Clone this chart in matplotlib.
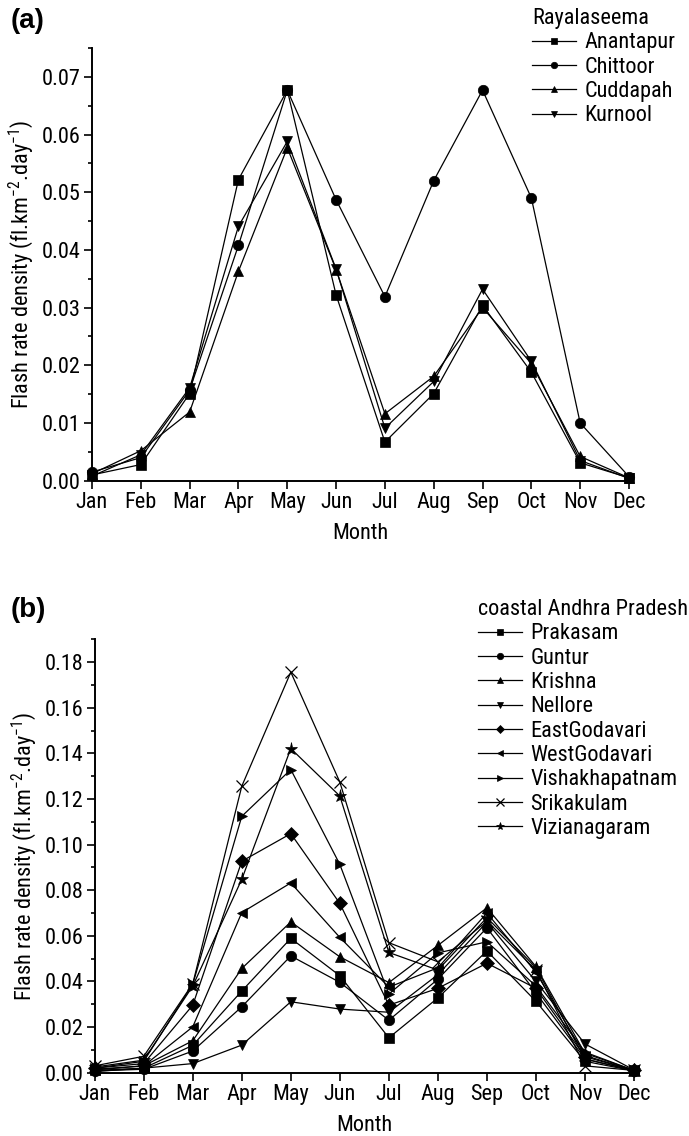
import matplotlib
matplotlib.use('Agg')
import matplotlib.pyplot as plt
from matplotlib.ticker import MultipleLocator, FormatStrFormatter

plt.rcParams['font.family'] = ['Roboto Condensed', 'DejaVu Sans']
plt.rcParams['mathtext.fontset'] = 'custom'
plt.rcParams['mathtext.rm'] = 'Roboto Condensed'
plt.rcParams['mathtext.default'] = 'regular'

months = ['Jan', 'Feb', 'Mar', 'Apr', 'May', 'Jun', 'Jul', 'Aug', 'Sep', 'Oct', 'Nov', 'Dec']

# Rayalaseema districts
anantapur = [0.0010, 0.0028, 0.0151, 0.0522, 0.0677, 0.0322, 0.0067, 0.0151, 0.0304, 0.0188, 0.0031, 0.0005]
chittoor = [0.0015, 0.0040, 0.0157, 0.0408, 0.0677, 0.0487, 0.0319, 0.0520, 0.0677, 0.0490, 0.0100, 0.0007]
cuddapah = [0.0012, 0.0052, 0.0119, 0.0363, 0.0577, 0.0366, 0.0116, 0.0181, 0.0300, 0.0203, 0.0042, 0.0005]
kurnool = [0.0008, 0.0045, 0.0161, 0.0441, 0.0588, 0.0367, 0.0091, 0.0172, 0.0332, 0.0207, 0.0035, 0.0004]

# coastal districts
prakasam = [0.0010, 0.0020, 0.0120, 0.0358, 0.0589, 0.0425, 0.0153, 0.0328, 0.0534, 0.0313, 0.0050, 0.0008]
guntur = [0.0008, 0.0015, 0.0095, 0.0289, 0.0512, 0.0396, 0.0230, 0.0410, 0.0635, 0.0350, 0.0060, 0.0008]
krishna = [0.0015, 0.0030, 0.0140, 0.0457, 0.0661, 0.0508, 0.0395, 0.0558, 0.0723, 0.0465, 0.0085, 0.0010]
nellore = [0.0005, 0.0020, 0.0040, 0.0121, 0.0311, 0.0279, 0.0265, 0.0430, 0.0660, 0.0400, 0.0126, 0.0012]
eastgodavari = [0.0020, 0.0040, 0.0296, 0.0927, 0.1048, 0.0742, 0.0296, 0.0370, 0.0480, 0.0370, 0.0070, 0.0010]
westgodavari = [0.0012, 0.0030, 0.0201, 0.0702, 0.0832, 0.0593, 0.0375, 0.0460, 0.0700, 0.0440, 0.0075, 0.0010]
vishakhapatnam = [0.0020, 0.0050, 0.0388, 0.1124, 0.1329, 0.0913, 0.0345, 0.0525, 0.0574, 0.0380, 0.0090, 0.0010]
srikakulam = [0.0030, 0.0072, 0.0390, 0.1256, 0.1756, 0.1274, 0.0570, 0.0486, 0.0665, 0.0450, 0.0030, 0.0010]
vizianagaram = [0.0025, 0.0055, 0.0380, 0.0848, 0.1421, 0.1213, 0.0527, 0.0450, 0.0680, 0.0460, 0.0060, 0.0010]

rayalaseema = [('Anantapur', anantapur, 's'), ('Chittoor', chittoor, 'o'),
               ('Cuddapah', cuddapah, '^'), ('Kurnool', kurnool, 'v')]
coastal = [('Prakasam', prakasam, 's'), ('Guntur', guntur, 'o'), ('Krishna', krishna, '^'),
           ('Nellore', nellore, 'v'), ('EastGodavari', eastgodavari, 'D'),
           ('WestGodavari', westgodavari, '<'), ('Vishakhapatnam', vishakhapatnam, '>'),
           ('Srikakulam', srikakulam, 'x'), ('Vizianagaram', vizianagaram, '*')]

fs = 16
ylab = 'Flash rate density (fl.km$^{-2}$.day$^{-1}$)'

W, H = 689, 1136
fig = plt.figure(figsize=(W / 100, H / 100), dpi=100)
ax1 = fig.add_axes([92 / W, 1 - 480.7 / H, 537 / W, (480.7 - 48) / H])
ax2 = fig.add_axes([94.7 / W, 1 - 1072.7 / H, 539.3 / W, (1072.7 - 639.3) / H])


def draw(ax, series, ymax, ystep, title, leg_xy):
    x = list(range(len(months)))
    for name, vals, mk in series:
        size = {'D': 7, '*': 9.5, 'x': 8.5, 'o': 7.5}.get(mk, 7)
        ax.plot(x, vals, color='k', lw=0.9, marker=mk, ms=size,
                mew=0.9 if mk == 'x' else 0.5, mfc='k', mec='k', label=name,
                clip_on=False)
    ax.set_xlim(0, 11)
    ax.set_ylim(0, ymax)
    ax.set_xticks(x)
    ax.set_xticklabels(months, fontsize=fs)
    ax.yaxis.set_major_locator(MultipleLocator(ystep))
    ax.yaxis.set_minor_locator(MultipleLocator(ystep / 2))
    ax.yaxis.set_major_formatter(FormatStrFormatter('%.2f'))
    ax.tick_params(axis='both', which='major', direction='out', length=6, width=1.2,
                   labelsize=fs, pad=2)
    ax.tick_params(axis='y', which='minor', direction='out', length=3, width=1.2)
    for s in ('top', 'right'):
        ax.spines[s].set_visible(False)
    for s in ('left', 'bottom'):
        ax.spines[s].set_linewidth(1.4)
    ax.set_xlabel('Month', fontsize=fs, labelpad=7)
    ax.set_ylabel(ylab, fontsize=fs, labelpad=4)
    fig.legend(*ax.get_legend_handles_labels(), loc='upper left',
               bbox_to_anchor=leg_xy, bbox_transform=fig.transFigure,
               frameon=False, fontsize=fs, title=title, title_fontsize=fs,
               handlelength=2.0, handletextpad=0.35, labelspacing=0.15,
               borderpad=0, borderaxespad=0, markerscale=0.62, numpoints=1,
               alignment='left')


draw(ax1, rayalaseema, 0.075, 0.01, 'Rayalaseema', (532 / W, 1 - 8 / H))
draw(ax2, coastal, 0.19, 0.02, 'coastal Andhra Pradesh', (478 / W, 1 - 599 / H))

fig.text(11 / W, 1 - 8 / H, '(a)', fontsize=20, fontweight='bold', va='top',
         family='Liberation Sans')
fig.text(11 / W, 1 - 597 / H, '(b)', fontsize=20, fontweight='bold', va='top',
         family='Liberation Sans')

fig.savefig('out.png', dpi=100)
